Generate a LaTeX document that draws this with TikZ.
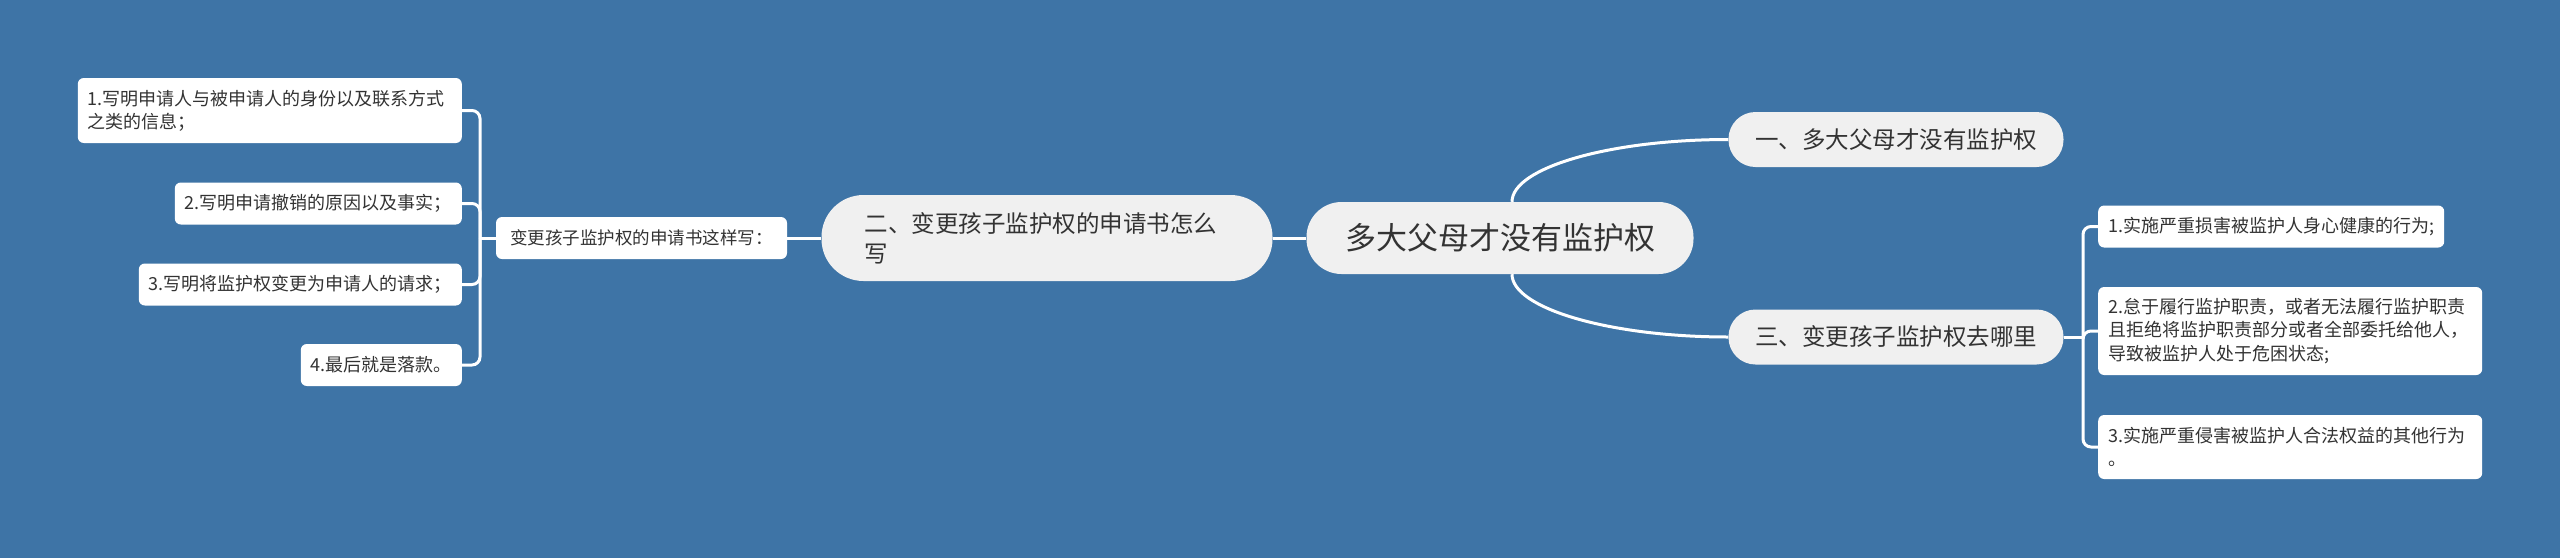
\documentclass[tikz,border=0pt]{standalone}
\usepackage{fontspec}
\usepackage{tikz}
\newfontfamily\cjk{Noto Sans CJK SC}
\definecolor{bgblue}{RGB}{62,116,166}
\definecolor{topicgray}{RGB}{240,240,240}
\definecolor{textgray}{RGB}{51,51,51}

\begin{document}
\begin{tikzpicture}[x=1pt,y=-1pt,
	link/.style={draw=white,line width=3pt},
	rootbox/.style={fill=topicgray,text=textgray,rounded corners=35pt,minimum width=387pt,minimum height=72pt,inner sep=0pt,font=\cjk\fontsize{31}{37}\selectfont},
	topicbox/.style={fill=topicgray,text=textgray,rounded corners=27pt,minimum width=335pt,minimum height=55pt,inner sep=0pt,font=\cjk\fontsize{23.5}{30}\selectfont},
	leafbox/.style={fill=white,text=textgray,rounded corners=6pt,inner xsep=10pt,inner ysep=0pt,minimum height=42pt,font=\cjk\fontsize{18}{23.3}\selectfont}]
						% Background, which also fixes the page size
						\useasboundingbox (0,0) rectangle (2560,558);
						\fill[bgblue] (0,0) rectangle (2560,558);
						
						% Central topic and the three main branches
						\node[rootbox] (root) at (1500,238) {多大父母才没有监护权};
						\node[topicbox] (one) at (1896,139.5) {一、多大父母才没有监护权};
						\node[topicbox] (three) at (1896,337) {三、变更孩子监护权去哪里};
						\node[topicbox,rounded corners=42pt,minimum width=451pt,minimum height=86pt,text width=365pt,inner xsep=43pt,align=left] (two) at (1047,238) {二、变更孩子监护权的申请书怎么\\写};
						
						% Sub topic of branch two
						\node[leafbox,minimum width=291pt,font=\cjk\fontsize{17.5}{22}\selectfont] (howto) at (641.5,238) {变更孩子监护权的申请书这样写：};
						
						% Left leaves
						\node[leafbox,anchor=east,text width=364pt,align=left,minimum height=65pt] (l1) at (462,110.5) {1.写明申请人与被申请人的身份以及联系方式\\之类的信息；};
						\node[leafbox,anchor=east] (l2) at (462,203.5) {2.写明申请撤销的原因以及事实；};
						\node[leafbox,anchor=east] (l3) at (462,284.5) {3.写明将监护权变更为申请人的请求；};
						\node[leafbox,anchor=east] (l4) at (462,365) {4.最后就是落款。};
						
						% Right leaves
						\node[leafbox,anchor=west] (r1) at (2098,226.5) {1.实施严重损害被监护人身心健康的行为;};
						\node[leafbox,anchor=west,text width=364pt,align=left,minimum height=88pt] (r2) at (2098,331) {2.怠于履行监护职责，或者无法履行监护职责\\且拒绝将监护职责部分或者全部委托给他人，\\导致被监护人处于危困状态;};
						\node[leafbox,anchor=west,text width=364pt,align=left,minimum height=64pt] (r3) at (2098,447) {3.实施严重侵害被监护人合法权益的其他行为\\。};
						
						% Connect central topic to the branches
						\draw[link] (root.west) -- (two.east);
						\draw[link] ([xshift=12pt]root.north) .. controls +(0,-34) and +(-119,0) .. (one.west);
						\draw[link] ([xshift=12pt]root.south) .. controls +(0,34) and +(-119,0) .. (three.west);
						\draw[link] (two.west) -- (howto.east);
						
						% Bracket to the left leaves
						\coordinate (lb) at (480,238);
						\draw[link] (howto.west) -- (lb);
						\foreach \n in {l1,l2,l3,l4}
						\draw[link,rounded corners=8pt] (lb) |- (\n.east);
						
						% Bracket to the right leaves
						\coordinate (rb) at (2083,337);
						\draw[link] (three.east) -- (rb);
						\foreach \n in {r1,r2,r3}
						\draw[link,rounded corners=8pt] (rb) |- (\n.west);
						\end{tikzpicture}
\end{document}
